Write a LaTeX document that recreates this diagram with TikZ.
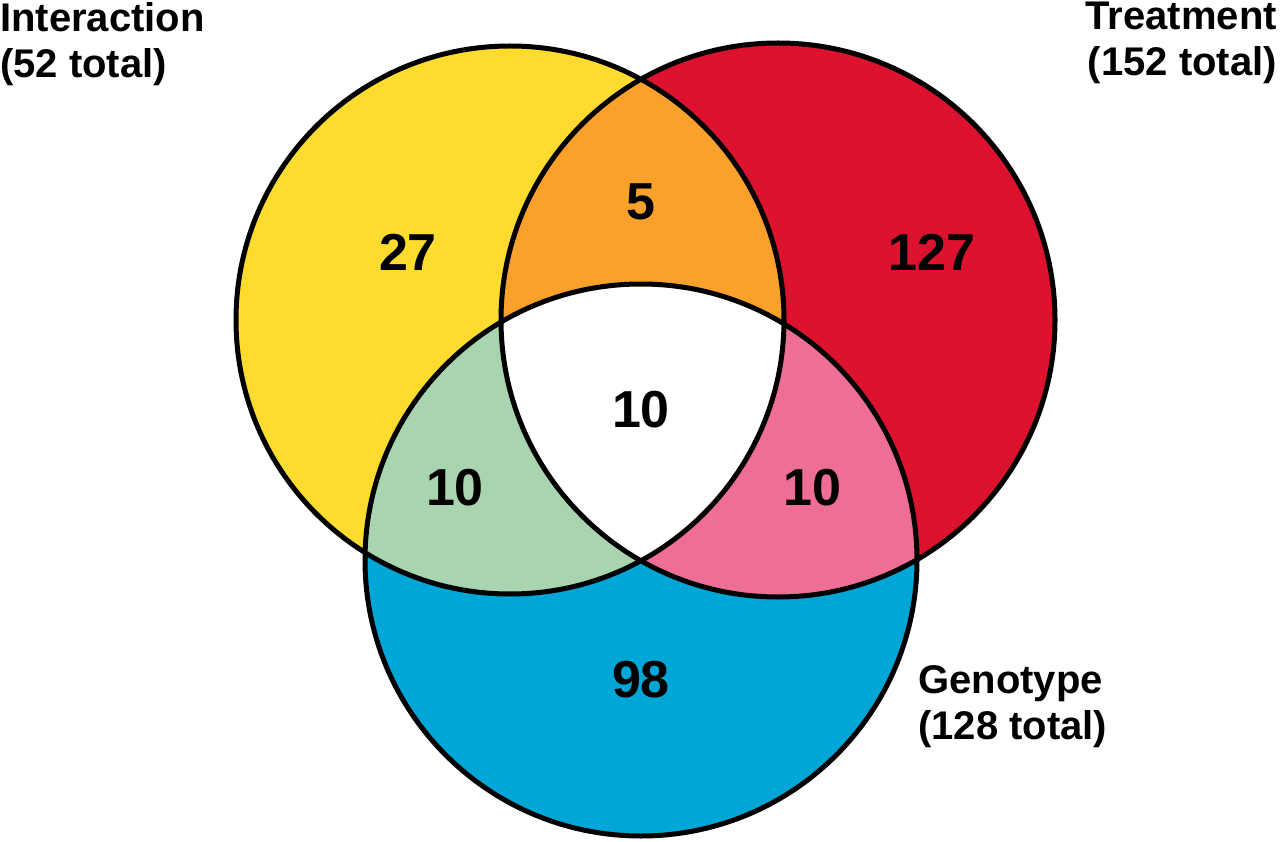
\documentclass[tikz,border=0pt]{standalone}
\usepackage{fontspec}
\setmainfont{Liberation Sans}
\definecolor{cyel}{HTML}{FDDB2F}
\definecolor{cred}{HTML}{DC122E}
\definecolor{cora}{HTML}{F9A12A}
\definecolor{cgre}{HTML}{A8D5B0}
\definecolor{cpin}{HTML}{EE6E95}
\definecolor{cblu}{HTML}{00A6D6}
\begin{document}
\begin{tikzpicture}[x=1pt,y=-1pt,
  num/.style={font=\fontsize{52}{56}\selectfont\bfseries},
  lab/.style={font=\fontsize{40}{46}\selectfont\bfseries,inner sep=0pt}]
\useasboundingbox (0,0) rectangle (1280,842);
\def\A{(510,320) circle[radius=274]}
\def\B{(778,320) circle[radius=277]}
\def\C{(641,560) circle[radius=276]}
\fill[cyel] \A;
\fill[cred] \B;
\fill[cblu] \C;
\begin{scope}\clip \A; \fill[cora] \B; \end{scope}
\begin{scope}\clip \A; \fill[cgre] \C; \end{scope}
\begin{scope}\clip \B; \fill[cpin] \C; \end{scope}
\begin{scope}\clip \A; \clip \B; \fill[white] \C; \end{scope}
\draw[line width=5pt] \A \B \C;
\node[num] (n27) at (408,252) {27};
\node[num] (n5) at (641,202) {5};
\node[num] (n127) at (932,252) {127};
\node[num] (n10c) at (641,410) {10};
\node[num] (n10l) at (455,488) {10};
\node[num] (n10r) at (812,488) {10};
\node[num] (n98) at (641,680) {98};
\node[lab,anchor=north west,align=left] (li) at (0,2) {Interaction\\(52 total)};
\node[lab,anchor=north east,align=right] (lt) at (1277,2) {Treatment\\(152 total)};
\node[lab,anchor=north west,align=left] (lg) at (918,665) {Genotype\\(128 total)};
\end{tikzpicture}
\end{document}
